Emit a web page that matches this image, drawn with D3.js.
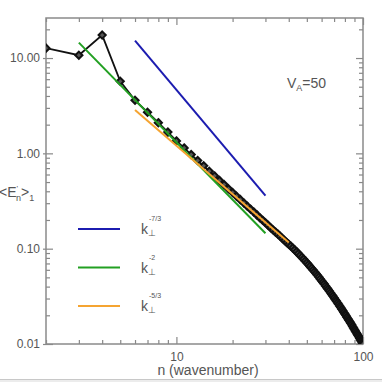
<!DOCTYPE html>
<html>
<head>
<style>
body{ margin:0; background:#fff; }
text{ font-family: "Liberation Sans", Arial, sans-serif; }
.axis text{ fill:#555; font-size:12px; }
.axis line{ stroke:#888; stroke-width:1.2; }
.axis path{ display:none; }
</style>
<script src="https://d3js.org/d3.v7.min.js"></script>
</head>
<body>
<script>
// wavenumbers n = 2 .. 100
var wavenumber = d3.range(2, 101)
var energy = [12.7, 10.7, 17.4, 5.7, 3.6, 2.7, 2.1, 1.67, 1.35,
  1.14, 0.97, 0.84, 0.74, 0.65, 0.58, 0.52, 0.47, 0.425, 0.388,
  0.355, 0.327, 0.301, 0.279, 0.259, 0.242, 0.226, 0.211, 0.199, 0.187,
  0.176, 0.166, 0.157, 0.149, 0.142, 0.135, 0.128, 0.122, 0.116, 0.111,
  0.1064, 0.1018, 0.0972, 0.0930, 0.0889, 0.0850, 0.0813, 0.0778, 0.0744, 0.0712,
  0.0681, 0.0652, 0.0624, 0.0597, 0.0572, 0.0548, 0.0525, 0.0503, 0.0482, 0.0462,
  0.0443, 0.0425, 0.0407, 0.0390, 0.0375, 0.0360, 0.0345, 0.0331, 0.0318, 0.0306,
  0.0293, 0.0282, 0.0271, 0.0261, 0.0250, 0.0241, 0.0232, 0.0223, 0.0214, 0.0206,
  0.0199, 0.0191, 0.0184, 0.0177, 0.0171, 0.0165, 0.0159, 0.0153, 0.0147, 0.0142,
  0.0137, 0.0132, 0.0127, 0.0123, 0.0119, 0.0114, 0.0110, 0.0107, 0.0103, 0.00995]

// reference power laws (start/end points)
var refExp = ["-7/3", "-2", "-5/3"]
var refColor = ["#1c1cb0", "#22a022", "#f5a431"]
var refN0 = [6, 3, 6]
var refN1 = [30, 30, 40]
var refE0 = [15.2, 14.5, 2.85]
var refE1 = [0.36, 0.145, 0.116]

var xMajor = [10, 100]
var xMinor = [2, 3, 4, 5, 6, 7, 8, 9, 20, 30, 40, 50, 60, 70, 80, 90]
var yMajor = [0.01, 0.1, 1, 10]
var yMinor = [0.02, 0.03, 0.04, 0.05, 0.06, 0.07, 0.08, 0.09,
              0.2, 0.3, 0.4, 0.5, 0.6, 0.7, 0.8, 0.9,
              2, 3, 4, 5, 6, 7, 8, 9, 20]

var w = 382
var h = 382
var pLeft = 46, pRight = 363, pTop = 18, pBottom = 344

var svg = d3.select("body")
            .append("svg")
            .attr("width", w)
            .attr("height", h)

var x = d3.scaleLog().domain([2, 100]).range([pLeft, pRight])
var y = d3.scaleLog().domain([0.01, 26.3]).range([pBottom, pTop])

svg.append("defs").append("clipPath")
   .attr("id", "plot")
   .append("rect")
   .attr("x", pLeft).attr("y", pTop)
   .attr("width", pRight - pLeft).attr("height", pBottom - pTop)

// bottom strip
svg.append("rect").attr("x", 0).attr("y", 379).attr("width", w).attr("height", 3).attr("fill", "#ececec")
svg.append("line").attr("x1", 0).attr("x2", w).attr("y1", 379.5).attr("y2", 379.5).attr("stroke", "#c8c8c8")

// axes
function noLabel(){ return "" }

svg.append("g").attr("class", "axis")
   .attr("transform", "translate(" + pLeft + ",0)")
   .call(d3.axisLeft(y).tickValues(yMajor).tickSize(3).tickPadding(3).tickFormat(d3.format(".2f")))
svg.append("g").attr("class", "axis")
   .attr("transform", "translate(" + pLeft + ",0)")
   .call(d3.axisRight(y).tickValues(yMajor).tickSize(7).tickFormat(noLabel))
svg.append("g").attr("class", "axis")
   .attr("transform", "translate(" + pLeft + ",0)")
   .call(d3.axisRight(y).tickValues(yMinor).tickSize(4).tickFormat(noLabel))
svg.append("g").attr("class", "axis")
   .attr("transform", "translate(" + pRight + ",0)")
   .call(d3.axisLeft(y).tickValues(yMajor).tickSize(7).tickFormat(noLabel))
svg.append("g").attr("class", "axis")
   .attr("transform", "translate(" + pRight + ",0)")
   .call(d3.axisLeft(y).tickValues(yMinor).tickSize(4).tickFormat(noLabel))

svg.append("g").attr("class", "axis")
   .attr("transform", "translate(0," + pBottom + ")")
   .call(d3.axisTop(x).tickValues(xMajor).tickSize(7).tickFormat(noLabel))
svg.append("g").attr("class", "axis")
   .attr("transform", "translate(0," + pBottom + ")")
   .call(d3.axisTop(x).tickValues(xMinor).tickSize(4).tickFormat(noLabel))
svg.append("g").attr("class", "axis")
   .attr("transform", "translate(0," + pBottom + ")")
   .call(d3.axisBottom(x).tickValues(xMajor).tickSize(0).tickPadding(8).tickFormat(d3.format("d")))
svg.append("g").attr("class", "axis")
   .attr("transform", "translate(0," + pTop + ")")
   .call(d3.axisBottom(x).tickValues(xMajor).tickSize(7).tickFormat(noLabel))
svg.append("g").attr("class", "axis")
   .attr("transform", "translate(0," + pTop + ")")
   .call(d3.axisBottom(x).tickValues(xMinor).tickSize(4).tickFormat(noLabel))

svg.append("rect")
   .attr("x", pLeft).attr("y", pTop)
   .attr("width", pRight - pLeft).attr("height", pBottom - pTop)
   .attr("fill", "none").attr("stroke", "#8a8a8a").attr("stroke-width", 1.5)

// data
var points = wavenumber.map(function(n, i){ return [n, energy[i]] })
var plot = svg.append("g").attr("clip-path", "url(#plot)")

plot.append("path")
    .datum(points)
    .attr("fill", "none")
    .attr("stroke", "#111")
    .attr("stroke-width", 1.8)
    .attr("d", d3.line().x(function(d){ return x(d[0]) }).y(function(d){ return y(d[1]) }))

plot.selectAll("path.mk")
    .data(points)
    .enter()
    .append("path")
    .attr("class", "mk")
    .attr("d", "M0,-3.6L3.6,0L0,3.6L-3.6,0Z")
    .attr("transform", function(d){ return "translate(" + x(d[0]) + "," + y(d[1]) + ")" })
    .attr("fill", "#555")
    .attr("stroke", "#111")
    .attr("stroke-width", 2)

// reference slopes
plot.selectAll("line.ref")
    .data(refExp)
    .enter()
    .append("line")
    .attr("class", "ref")
    .attr("x1", function(d, i){ return x(refN0[i]) })
    .attr("y1", function(d, i){ return y(refE0[i]) })
    .attr("x2", function(d, i){ return x(refN1[i]) })
    .attr("y2", function(d, i){ return y(refE1[i]) })
    .attr("stroke", function(d, i){ return refColor[i] })
    .attr("stroke-width", 2)

// legend
var legend = svg.selectAll("g.leg")
   .data(refExp)
   .enter()
   .append("g")
   .attr("class", "leg")
   .attr("transform", function(d, i){ return "translate(78," + (229 + i * 38.5) + ")" })

legend.append("line")
   .attr("x1", 0).attr("x2", 42).attr("y1", 0).attr("y2", 0)
   .attr("stroke", function(d, i){ return refColor[i] })
   .attr("stroke-width", 2)

var lt = legend.append("text").attr("x", 63).attr("y", 5).attr("fill", "#555").attr("font-size", 14)
lt.append("tspan").text("k")
lt.append("tspan").attr("x", 69.5).attr("y", 7).attr("font-size", 9).text("\u22A5")
lt.append("tspan").attr("x", 71).attr("y", -8).attr("font-size", 7).text(function(d){ return d })

// annotation
var va = svg.append("text").attr("x", 287).attr("y", 88).attr("fill", "#555").attr("font-size", 14)
va.append("tspan").text("V")
va.append("tspan").attr("dy", 3).attr("font-size", 9).text("A")
va.append("tspan").attr("dy", -3).text("=50")

// axis titles
svg.append("text")
   .attr("x", 208).attr("y", 375)
   .attr("text-anchor", "middle")
   .attr("fill", "#555")
   .attr("font-size", 14)
   .text("n (wavenumber)")

var yl = svg.append("text").attr("x", -1).attr("y", 197).attr("fill", "#555").attr("font-size", 14)
yl.append("tspan").text("<E")
yl.append("tspan").attr("dy", -6).attr("font-size", 8).text("'")
yl.append("tspan").attr("dy", 10).attr("dx", -2).attr("font-size", 9).text("n")
yl.append("tspan").attr("dy", -4).text(">")
yl.append("tspan").attr("dy", 4).attr("font-size", 9).text("1")
</script>
</body>
</html>
